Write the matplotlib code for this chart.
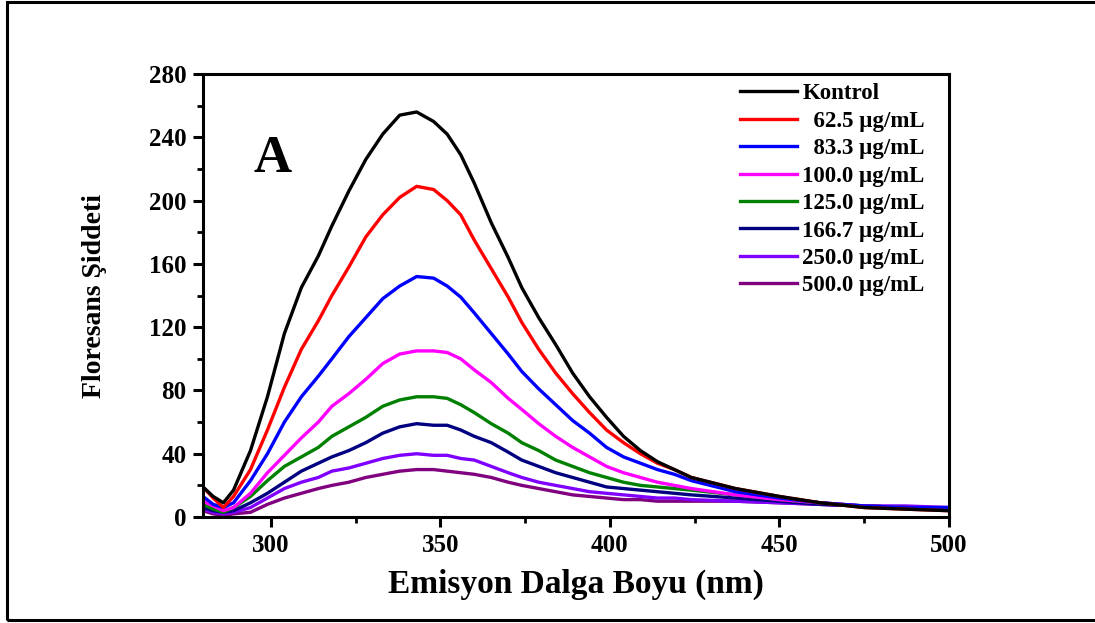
"""
Fluorescence emission spectra (panel A) for increasing extract concentration.

Values read off the original figure; x in nm, y in arbitrary intensity units.
"""

from __future__ import annotations

import matplotlib

matplotlib.use("Agg")
import matplotlib.pyplot as plt
from matplotlib.lines import Line2D
from matplotlib.ticker import MultipleLocator

WAVELENGTH = [280, 283, 286, 289, 294, 299, 304, 309, 314, 318, 323, 328, 333, 338,
              343, 348, 352, 356, 360, 365, 370, 374, 379, 384, 389, 394, 399, 404,
              409, 414, 419, 424, 437, 450, 462, 475, 487, 500]

KONTROL = [19, 13, 9, 17, 42, 76, 116, 145, 165, 184, 206, 226, 242, 254,
           256, 250, 242, 229, 211, 186, 164, 145, 126, 109, 91, 76, 63, 51,
           42, 35, 30, 25, 18, 13, 9, 6, 5, 4]
C_62_5 = [19, 12, 6, 13, 30, 55, 82, 106, 124, 140, 158, 177, 191, 202,
          209, 207, 200, 191, 175, 157, 139, 123, 106, 91, 78, 66, 55, 47,
          40, 34, 30, 25, 18, 13, 9, 6, 5, 4]
C_83_3 = [13, 8, 6, 9, 23, 40, 60, 76, 89, 100, 114, 126, 138, 146,
          152, 151, 146, 139, 129, 116, 103, 92, 81, 71, 61, 53, 44, 38,
          34, 30, 27, 23, 16, 12, 9, 7, 6, 6]
C_100 = [10, 7, 4, 6, 15, 28, 39, 50, 60, 70, 78, 87, 97, 103,
         105, 105, 104, 100, 93, 85, 75, 68, 59, 51, 44, 38, 32, 28,
         25, 22, 20, 18, 14, 11, 9, 7, 6, 6]
C_125 = [8, 5, 3, 6, 13, 23, 32, 38, 44, 51, 57, 63, 70, 74,
         76, 76, 75, 71, 66, 59, 53, 47, 42, 36, 32, 28, 25, 22,
         20, 19, 18, 17, 14, 11, 9, 7, 6, 5]
C_166_7 = [6, 4, 3, 4, 9, 15, 22, 29, 34, 38, 42, 47, 53, 57,
           59, 58, 58, 55, 51, 47, 41, 36, 32, 28, 25, 22, 19, 18,
           17, 16, 15, 14, 12, 10, 8, 7, 6, 5]
C_250 = [5, 3, 2, 3, 6, 12, 18, 22, 25, 29, 31, 34, 37, 39,
         40, 39, 39, 37, 36, 32, 28, 25, 22, 20, 18, 16, 15, 14,
         13, 12, 12, 11, 10, 9, 8, 7, 7, 6]
C_500 = [4, 2, 1, 2, 3, 8, 12, 15, 18, 20, 22, 25, 27, 29,
         30, 30, 29, 28, 27, 25, 22, 20, 18, 16, 14, 13, 12, 11,
         11, 10, 10, 10, 10, 9, 8, 7, 6, 5]

SERIES = [KONTROL, C_62_5, C_83_3, C_100, C_125, C_166_7, C_250, C_500]
LABELS = ["Kontrol", "  62.5 µg/mL", "  83.3 µg/mL", "100.0 µg/mL",
          "125.0 µg/mL", "166.7 µg/mL", "250.0 µg/mL", "500.0 µg/mL"]
COLORS = ["#000000", "#ff0000", "#0000ff", "#ff00ff",
          "#008000", "#000080", "#8000ff", "#800080"]

X_TICKS = [300, 350, 400, 450, 500]
Y_TICKS = [0, 40, 80, 120, 160, 200, 240, 280]

FONT = "Liberation Serif"


def main() -> None:
    plt.rcParams["font.family"] = [FONT, "DejaVu Serif"]
    plt.rcParams["font.weight"] = "bold"

    fig = plt.figure(figsize=(10.95, 6.23), dpi=100)
    ax = fig.add_axes([0.1854, 0.1701, 0.6813, 0.7111])

    # drawing order: lowest concentration on top like the original
    for values, label, color in reversed(list(zip(SERIES, LABELS, COLORS))):
        ax.plot(WAVELENGTH, values, color=color, linewidth=2.4, label=label,
                solid_joinstyle="round")

    ax.set_xlim(280, 500)
    ax.set_ylim(0, 280)
    ax.set_xticks(X_TICKS)
    ax.set_yticks(Y_TICKS)
    ax.xaxis.set_minor_locator(MultipleLocator(25))
    ax.yaxis.set_minor_locator(MultipleLocator(20))

    for side in ("left", "right", "top", "bottom"):
        ax.spines[side].set_linewidth(2.2)
    ax.tick_params(which="major", direction="out", length=7, width=2.2,
                   labelsize=18, pad=5, top=False, right=False)
    ax.tick_params(which="minor", direction="out", length=4, width=2.0,
                   top=False, right=False)
    for lab in ax.get_xticklabels() + ax.get_yticklabels():
        lab.set_fontweight("bold")

    ax.set_xlabel("Emisyon Dalga Boyu (nm)", fontsize=24, fontweight="bold", labelpad=9)
    ax.set_ylabel("Floresans Şiddeti", fontsize=20, fontweight="bold", labelpad=30)

    ax.text(0.093, 0.808, "A", transform=ax.transAxes, fontsize=38,
            fontweight="bold", ha="center", va="center")

    handles = [Line2D([0], [0], color=c, linewidth=2.4) for c in COLORS]
    ax.legend(handles, LABELS, loc="upper left", bbox_to_anchor=(0.708, 1.0),
              frameon=False, prop={"family": FONT, "weight": "bold", "size": 16.5},
              handlelength=2.45, handletextpad=0.25, labelspacing=0.28,
              borderaxespad=0.2, borderpad=0.2)

    # outer frame around the whole picture (right edge is cut off in the source)
    frame = plt.Rectangle((0.0065, 0.005), 1.1, 0.992, transform=fig.transFigure,
                          fill=False, edgecolor="black", linewidth=2.2)
    fig.patches.append(frame)

    fig.savefig("out.png", dpi=100)
    plt.close(fig)


if __name__ == "__main__":
    main()
